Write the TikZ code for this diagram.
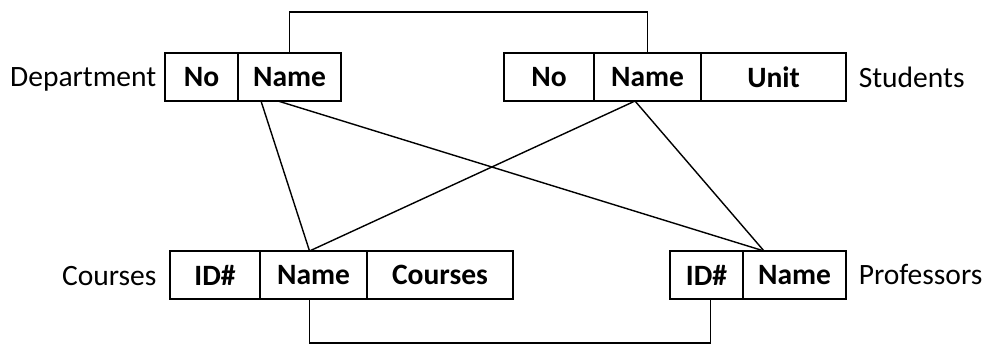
\documentclass[tikz,border=0pt]{standalone}
\usepackage{fontspec}
\setmainfont{Carlito}
\usepackage{tikz}
\usetikzlibrary{positioning}
\newcommand{\tabfont}{\fontsize{21}{25}\selectfont}
\tikzstyle{cell} = [rectangle, draw, font=\tabfont\bfseries,
    minimum height=1.2cm, inner sep=0pt, outer sep=0pt]
\tikzstyle{tname} = [font=\tabfont, inner sep=0pt]
\tikzstyle{line} = [draw]

\begin{document}
\begin{tikzpicture}[x=0.025cm, y=-0.025cm, line width=1pt]
    \useasboundingbox (0,0) rectangle (987,345);
    % Department table
    \node [cell, minimum width=1.825cm] (deptNo) at (201.5,77) {No};
    \node [cell, minimum width=2.575cm, right=0pt of deptNo] (deptName) {Name};
    \node [tname, base left=0.2cm of deptNo] (dept) {Department};
    % Students table
    \node [cell, minimum width=2.25cm] (studNo) at (549,77) {No};
    \node [cell, minimum width=2.675cm, right=0pt of studNo] (studName) {Name};
    \node [cell, minimum width=3.625cm, right=0pt of studName] (studUnit) {Unit};
    \node [tname, base right=0.3cm of studUnit] (stud) {Students};
    % Courses table
    \node [cell, minimum width=2.25cm] (courId) at (215,275) {ID\#};
    \node [cell, minimum width=2.675cm, right=0pt of courId] (courName) {Name};
    \node [cell, minimum width=3.65cm, right=0pt of courName] (courCourses) {Courses};
    \node [tname, base left=0.32cm of courId] (cour) {Courses};
    % Professors table
    \node [cell, minimum width=1.825cm] (profId) at (706.5,275) {ID\#};
    \node [cell, minimum width=2.575cm, right=0pt of profId] (profName) {Name};
    \node [tname, base right=0.3cm of profName] (prof) {Professors};
    % links
    \path [line] (deptName.north) -- ++(0,-41) -| (studName.north);
    \path [line] ([xshift=0.575cm]deptName.south west) -- ([xshift=-0.1cm]courName.north);
    \path [line] ([xshift=1cm]deptName.south west) -- ([xshift=0.525cm]profName.north west);
    \path [line] ([xshift=1.025cm]studName.south west) -- ([xshift=-0.1cm]courName.north);
    \path [line] ([xshift=1.025cm]studName.south west) -- ([xshift=0.525cm]profName.north west);
    \path [line] ([xshift=-0.1cm]courName.south) -- ++(0,44) -| ([xshift=0.1cm]profId.south);
\end{tikzpicture}
\end{document}
